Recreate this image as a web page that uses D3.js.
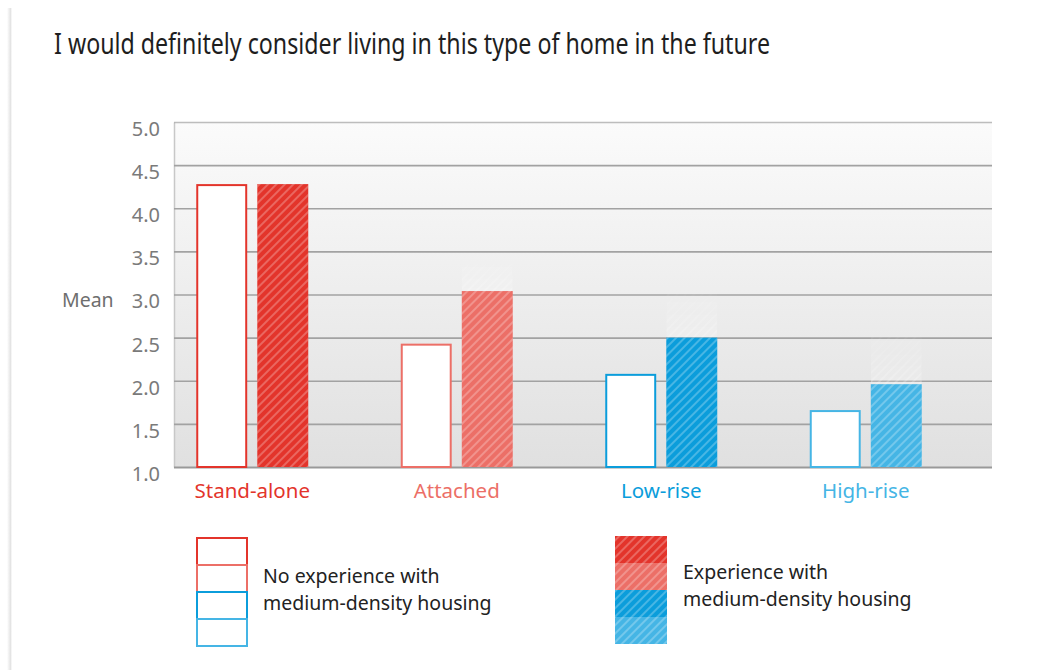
<!DOCTYPE html>
<html>
<head>
<meta charset="utf-8">
<script src="https://cdn.jsdelivr.net/npm/d3@7"></script>
<style>
  body { margin: 0; background: #fff; }
  svg { display: block; }
  text { font-family: "Noto Sans", "Open Sans", sans-serif; }
</style>
</head>
<body>
<svg id="chart" width="1059" height="670"></svg>
<script>
// Housing types and mean agreement scores (1–5 scale)
const categories = ["Stand-alone", "Attached", "Low-rise", "High-rise"];
const noExperience = [4.28, 2.43, 2.08, 1.66];
const withExperience = [4.28, 3.04, 2.50, 1.96];
const withExperienceTrail = [4.28, 3.42, 3.02, 2.55];
const categoryColors = ["#e3342b", "#ec6f67", "#0b9ddb", "#45b5e5"];
const yTicks = [1.0, 1.5, 2.0, 2.5, 3.0, 3.5, 4.0, 4.5, 5.0];
const legendNoExp = ["No experience with", "medium-density housing"];
const legendExp = ["Experience with", "medium-density housing"];
const titleText = "I would definitely consider living in this type of home in the future";

const svg = d3.select("#chart");
const defs = svg.append("defs");

const plot = { left: 174, right: 992, top: 122, bottom: 467 };

// Background gradient of the plotting area
const bg = defs.append("linearGradient").attr("id", "plotBg")
  .attr("x1", 0).attr("y1", 0).attr("x2", 0).attr("y2", 1);
bg.append("stop").attr("offset", "0%").attr("stop-color", "#fbfbfb");
bg.append("stop").attr("offset", "100%").attr("stop-color", "#e0e0e0");

// Diagonal white hatching
const hatch = defs.append("pattern").attr("id", "hatch")
  .attr("patternUnits", "userSpaceOnUse")
  .attr("width", 6).attr("height", 6)
  .attr("patternTransform", "rotate(45)");
hatch.append("line").attr("x1", 1).attr("y1", 0).attr("x2", 1).attr("y2", 6)
  .attr("stroke", "#fff").attr("stroke-opacity", 0.5).attr("stroke-width", 1);

// Fading mask for the trailing hatch above experience bars
const fade = defs.append("linearGradient").attr("id", "fadeGrad")
  .attr("x1", 0).attr("y1", 0).attr("x2", 0).attr("y2", 1);
fade.append("stop").attr("offset", "0%").attr("stop-color", "#fff").attr("stop-opacity", 0.1);
fade.append("stop").attr("offset", "100%").attr("stop-color", "#fff").attr("stop-opacity", 0.9);
defs.append("mask").attr("id", "fadeMask").attr("maskContentUnits", "objectBoundingBox")
  .append("rect").attr("width", 1).attr("height", 1).attr("fill", "url(#fadeGrad)");

// Page card edge with soft shadow
const edge = defs.append("linearGradient").attr("id", "edgeGrad")
  .attr("x1", 0).attr("y1", 0).attr("x2", 1).attr("y2", 0);
edge.append("stop").attr("offset", "0%").attr("stop-color", "#fff");
edge.append("stop").attr("offset", "70%").attr("stop-color", "#e4e4e4");
edge.append("stop").attr("offset", "100%").attr("stop-color", "#fdfdfd");
svg.append("rect").attr("x", 7).attr("y", 8).attr("width", 5).attr("height", 662)
  .attr("fill", "url(#edgeGrad)");

// Title
svg.append("text")
  .attr("x", 54).attr("y", 54)
  .attr("font-size", 29)
  .attr("fill", "#1e1e1e")
  .attr("textLength", 716)
  .attr("lengthAdjust", "spacingAndGlyphs")
  .text(titleText);

// Scales
const y = d3.scaleLinear().domain([1, 5]).range([plot.bottom, plot.top]);
const x = d3.scaleBand().domain(categories).range([150, 968]);
const groupWidth = 112;
const sub = d3.scaleBand().domain(["none", "exp"]).range([0, groupWidth]).paddingInner(0.165);
const groupStart = c => x(c) + (x.bandwidth() - groupWidth) / 2;

// Plot background
svg.append("rect")
  .attr("x", plot.left).attr("y", plot.top)
  .attr("width", plot.right - plot.left).attr("height", plot.bottom - plot.top)
  .attr("fill", "url(#plotBg)");

// Y axis with gridlines
const yAxis = svg.append("g")
  .attr("transform", `translate(${plot.left},0)`)
  .call(d3.axisLeft(y)
    .tickValues(yTicks)
    .tickSize(-(plot.right - plot.left))
    .tickSizeOuter(0)
    .tickPadding(14)
    .tickFormat(d3.format(".1f")));
yAxis.select(".domain").attr("stroke", "#c8c8c8").attr("stroke-width", 1.5);
yAxis.selectAll(".tick line")
  .attr("stroke", d => d === 1 ? "#999" : "#a2a2a2")
  .attr("stroke-width", d => d === 1 ? 2.2 : 1.6)
  .attr("stroke-opacity", d => d === 5 ? 0.7 : 1);
yAxis.selectAll(".tick text")
  .attr("y", 7)
  .attr("font-size", 20).attr("fill", "#7a7a7a")
  .style("font-family", '"Noto Sans", sans-serif');

// Y axis title
svg.append("text")
  .attr("x", 62).attr("y", 307)
  .attr("font-size", 19.5).attr("fill", "#6e6e6e")
  .text("Mean");

const rows = categories.map((c, i) => ({
  c, i, none: noExperience[i], exp: withExperience[i], trail: withExperienceTrail[i], color: categoryColors[i]
}));

const groups = svg.append("g").selectAll("g").data(rows).join("g")
  .attr("transform", d => `translate(${groupStart(d.c)},0)`);

// Trailing faded hatch above experience bars
const trails = groups.filter(d => d.trail > d.exp);
trails.append("rect")
  .attr("x", sub("exp")).attr("width", sub.bandwidth())
  .attr("y", d => y(d.trail)).attr("height", d => y(d.exp) - y(d.trail))
  .attr("fill", "#ffffff").attr("fill-opacity", 0.2)
  .attr("mask", "url(#fadeMask)");
trails.append("rect")
  .attr("x", sub("exp")).attr("width", sub.bandwidth())
  .attr("y", d => y(d.trail)).attr("height", d => y(d.exp) - y(d.trail))
  .attr("fill", "url(#hatch)")
  .attr("mask", "url(#fadeMask)");

// No-experience bars: outlined
groups.append("rect")
  .attr("x", sub("none") + 1).attr("width", sub.bandwidth() - 2)
  .attr("y", d => y(d.none) + 1).attr("height", d => y(1) - y(d.none) - 1)
  .attr("fill", "#fff")
  .attr("stroke", d => d.color).attr("stroke-width", 2);

// Experience bars: solid with hatching
groups.append("rect")
  .attr("x", sub("exp")).attr("width", sub.bandwidth())
  .attr("y", d => y(d.exp)).attr("height", d => y(1) - y(d.exp))
  .attr("fill", d => d.color);
groups.append("rect")
  .attr("x", sub("exp")).attr("width", sub.bandwidth())
  .attr("y", d => y(d.exp)).attr("height", d => y(1) - y(d.exp))
  .attr("fill", "url(#hatch)");

// Category labels
svg.append("g").selectAll("text").data(rows).join("text")
  .attr("x", d => groupStart(d.c) + groupWidth / 2)
  .attr("y", 498)
  .attr("text-anchor", "middle")
  .attr("font-size", 20.5)
  .attr("fill", d => d.color)
  .text(d => d.c);

// Legend
const boxW = 52, boxH = 27;
function legend(x0, y0, filled, lines, tx, ty) {
  const g = svg.append("g");
  g.selectAll("rect.sw").data(categoryColors).join("rect")
    .attr("class", "sw")
    .attr("x", filled ? x0 : x0 + 1).attr("width", filled ? boxW : boxW - 2)
    .attr("y", (d, i) => y0 + i * boxH + (filled ? 0 : 1))
    .attr("height", filled ? boxH : boxH)
    .attr("fill", filled ? (d => d) : "#fff")
    .attr("stroke", filled ? "none" : (d => d))
    .attr("stroke-width", 2);
  if (filled) {
    g.append("rect").attr("x", x0).attr("y", y0)
      .attr("width", boxW).attr("height", boxH * categoryColors.length)
      .attr("fill", "url(#hatch)");
  }
  g.selectAll("text").data(lines).join("text")
    .attr("x", tx).attr("y", (d, i) => ty + i * 27)
    .attr("font-size", 19.5).attr("fill", "#222")
    .text(d => d);
}
legend(196, 537, false, legendNoExp, 263, 583);
legend(615, 536, true, legendExp, 683, 579);
</script>
</body>
</html>
